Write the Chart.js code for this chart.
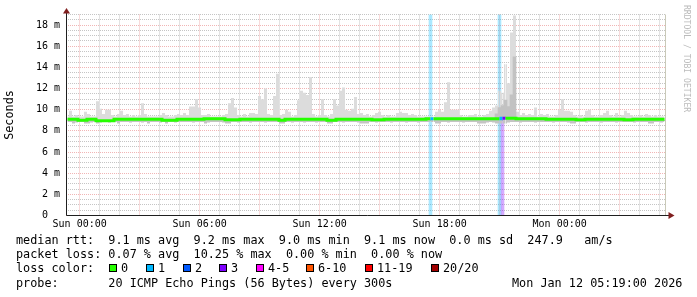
<!DOCTYPE html>
<html>
<head>
<meta charset="utf-8">
<script src="https://cdn.jsdelivr.net/npm/chart.js@4/dist/chart.umd.min.js"></script>
<style>
  html, body { margin: 0; padding: 0; background: #fff; }
  #wrap { position: relative; width: 697px; height: 297px; overflow: hidden; background: #fff; }
  #chart { position: absolute; left: 0; top: 0; }
  .txt { position: absolute; left: 16px; font-family: 'DejaVu Sans Mono', monospace; font-size: 11.8px;
         line-height: 14.2px; white-space: pre; color: #000; }
  .box { position: absolute; width: 6px; height: 6px; border: 1px solid #000; }
  #credit { position: absolute; left: 682px; top: 5px; writing-mode: vertical-rl;
            font-family: 'DejaVu Sans Mono', monospace; font-size: 8.1px; line-height: 10px;
            color: #bbb; white-space: pre; }
</style>
</head>
<body>
<div id="wrap">
  <canvas id="chart" width="697" height="297"></canvas>
  <div id="legend"></div>
  <div id="credit">RRDTOOL / TOBI OETIKER</div>
</div>
<script>
// ─── DATA ───────────────────────────────────────────
// time axis in hours relative to Sun 00:00, 200 bins of 9 minutes
const T_START = -41 / 60;      // Sat 23:19
const T_END = 29 + 19 / 60;    // Mon 05:19
const BIN_H = 0.15;

const xTickHours  = [0, 6, 12, 18, 24];
const xTickLabels = ['Sun 00:00', 'Sun 06:00', 'Sun 12:00', 'Sun 18:00', 'Mon 00:00'];
const yTickValues = [0, 2, 4, 6, 8, 10, 12, 14, 16, 18];
const yTickLabels = ['0  ', '2 m', '4 m', '6 m', '8 m', '10 m', '12 m', '14 m', '16 m', '18 m'];

// smoke top (slowest ping), ms
const smokeHi = [
  9.35, 9.9, 9.35, 9.5, 9.35, 9.35, 9.8, 9.6, 9.35, 9.35, 10.8, 10.1, 9.6, 10.0, 10.0, 9.5, 9.35, 9.6, 9.9, 9.5,
  9.6, 9.35, 9.5, 9.35, 9.5, 10.6, 9.6, 9.35, 9.35, 9.35, 9.35, 9.5, 9.7, 9.5, 9.35, 9.35, 9.5, 9.6, 9.5, 9.7,
  9.5, 10.3, 10.3, 11.0, 10.2, 9.5, 9.5, 9.6, 9.35, 9.35, 9.35, 9.35, 9.5, 9.6, 10.6, 11.1, 10.2, 9.5, 9.35, 9.6,
  9.35, 9.7, 9.7, 9.6, 11.3, 11.0, 12.0, 9.6, 9.5, 11.3, 13.4, 9.5, 9.6, 10.0, 9.8, 9.35, 9.5, 10.9, 11.8, 11.6,
  11.4, 13.1, 9.6, 9.35, 9.5, 11.0, 9.5, 9.35, 9.6, 11.0, 10.4, 11.8, 12.1, 10.0, 9.9, 10.1, 11.2, 9.6, 9.7, 9.5,
  9.6, 9.35, 9.5, 9.7, 9.8, 9.5, 9.35, 9.5, 9.35, 9.35, 9.7, 9.8, 9.7, 9.7, 9.5, 9.6, 9.5, 9.35, 9.35, 9.35,
  9.35, 9.35, 9.35, 9.8, 10.0, 9.8, 10.7, 12.6, 10.0, 10.0, 10.0, 9.5, 9.35, 9.35, 9.5, 9.5, 9.6, 9.35, 9.35, 9.5,
  9.6, 9.9, 10.2, 10.4, 11.8, 11.6, 14.3, 12.5, 17.3, 18.9, 9.8, 9.5, 9.7, 9.5, 9.6, 9.5, 10.2, 9.35, 9.6, 9.5,
  9.6, 9.35, 9.35, 9.5, 10.0, 11.0, 9.9, 9.9, 9.8, 9.5, 9.35, 9.5, 9.35, 9.9, 10.0, 9.5, 9.35, 9.35, 9.5, 9.7,
  9.9, 9.5, 9.35, 9.7, 9.35, 9.5, 9.9, 9.7, 9.5, 9.35, 9.35, 9.5, 9.35, 9.6, 9.5, 9.35, 9.5, 9.35, 9.35, 9.35
];

// smoke bottom (fastest ping), ms
const smokeLo = [
  8.85, 8.85, 8.7, 8.8, 8.85, 8.85, 8.7, 8.7, 8.8, 8.85, 8.7, 8.8, 8.85, 8.85, 8.8, 8.85, 8.85, 8.7, 8.85, 8.85,
  8.85, 8.8, 8.85, 8.85, 8.85, 8.8, 8.85, 8.7, 8.85, 8.85, 8.85, 8.8, 8.85, 8.7, 8.85, 8.85, 8.8, 8.85, 8.85, 8.85,
  8.85, 8.85, 8.8, 8.85, 8.85, 8.85, 8.7, 8.8, 8.85, 8.85, 8.85, 8.85, 8.8, 8.7, 8.7, 8.85, 8.85, 8.8, 8.85, 8.85,
  8.85, 8.8, 8.85, 8.85, 8.85, 8.85, 8.8, 8.85, 8.85, 8.85, 8.85, 8.7, 8.7, 8.85, 8.85, 8.8, 8.85, 8.85, 8.85, 8.8,
  8.85, 8.85, 8.85, 8.8, 8.85, 8.85, 8.85, 8.7, 8.7, 8.85, 8.85, 8.85, 8.8, 8.85, 8.85, 8.85, 8.85, 8.8, 8.7, 8.7,
  8.7, 8.85, 8.85, 8.8, 8.85, 8.85, 8.85, 8.85, 8.8, 8.85, 8.85, 8.85, 8.85, 8.8, 8.85, 8.85, 8.85, 8.8, 8.85, 8.85,
  8.85, 8.85, 8.85, 8.7, 8.7, 8.85, 8.85, 8.8, 8.85, 8.85, 8.85, 8.85, 8.8, 8.85, 8.85, 8.85, 8.85, 8.7, 8.7, 8.7,
  8.8, 8.85, 8.8, 8.7, 8.7, 8.7, 8.7, 8.8, 8.85, 8.85, 8.85, 8.8, 8.85, 8.85, 8.85, 8.85, 8.8, 8.85, 8.85, 8.85,
  8.85, 8.85, 8.8, 8.85, 8.85, 8.85, 8.85, 8.8, 8.7, 8.7, 8.85, 8.85, 8.85, 8.8, 8.85, 8.85, 8.85, 8.85, 8.8, 8.85,
  8.85, 8.85, 8.85, 8.8, 8.85, 8.85, 8.85, 8.85, 8.85, 8.8, 8.85, 8.85, 8.85, 8.85, 8.7, 8.7, 8.85, 8.85, 8.8, 8.85
];

// median rtt, ms
const medianRtt = [
  9.1, 9.1, 9.1, 9.1, 9.0, 9.0, 9.0, 9.1, 9.1, 9.1, 8.95, 8.95, 8.95, 8.95, 8.95, 8.95, 9.1, 9.1, 9.1, 9.1,
  9.1, 9.1, 9.1, 9.1, 9.1, 9.1, 9.1, 9.1, 9.1, 9.1, 9.1, 9.1, 9.0, 9.0, 9.0, 9.0, 9.0, 9.1, 9.1, 9.1,
  9.1, 9.1, 9.1, 9.1, 9.1, 9.1, 9.15, 9.15, 9.15, 9.15, 9.15, 9.15, 9.15, 9.05, 9.05, 9.05, 9.05, 9.05, 9.1, 9.1,
  9.1, 9.1, 9.1, 9.1, 9.1, 9.1, 9.1, 9.1, 9.1, 9.1, 9.1, 9.0, 9.0, 9.1, 9.1, 9.1, 9.1, 9.1, 9.1, 9.1,
  9.1, 9.1, 9.1, 9.1, 9.1, 9.1, 9.1, 9.0, 9.0, 9.0, 9.1, 9.1, 9.1, 9.1, 9.1, 9.1, 9.1, 9.1, 9.1, 9.1,
  9.1, 9.1, 9.05, 9.05, 9.05, 9.05, 9.1, 9.1, 9.1, 9.1, 9.1, 9.1, 9.1, 9.1, 9.1, 9.1, 9.1, 9.1, 9.1, 9.1,
  9.15, 9.15, 9.15, 9.15, 9.15, 9.15, 9.15, 9.15, 9.15, 9.15, 9.15, 9.15, 9.15, 9.15, 9.15, 9.15, 9.15, 9.15, 9.15, 9.15,
  9.15, 9.15, 9.15, 9.15, 9.15, 9.2, 9.2, 9.2, 9.2, 9.2, 9.15, 9.15, 9.15, 9.15, 9.15, 9.15, 9.15, 9.15, 9.15, 9.15,
  9.1, 9.1, 9.1, 9.1, 9.1, 9.1, 9.1, 9.1, 9.1, 9.1, 9.05, 9.05, 9.05, 9.1, 9.1, 9.1, 9.1, 9.1, 9.1, 9.1,
  9.1, 9.1, 9.1, 9.1, 9.1, 9.1, 9.05, 9.05, 9.05, 9.1, 9.1, 9.1, 9.1, 9.1, 9.1, 9.1, 9.1, 9.1, 9.1, 9.1
];

// darker inner smoke where the middle pings were slow too
const innerBins = [143, 144, 145, 146, 147, 148, 149];
const innerHi   = [9.6, 10.2, 10.4, 10.9, 10.3, 11.4, 15.0];

// bins with packet loss (lost pings out of 20) and how high each bar reaches
const lossBins   = [121, 144, 145];
const lossCounts = [1, 1, 3];
const lossBarTop = [19, 19, 9.2];

const lossLabels = ['0', '1', '2', '3', '4-5', '6-10', '11-19', '20/20'];
const lossLimits = [0, 1, 2, 3, 5, 10, 19, 20];
const lossColors = ['#26ff00', '#00b8ff', '#0059ff', '#7e00ff', '#ff00ff', '#ff5500', '#ff0000', '#a00000'];

const statLines = [
  'median rtt:  9.1 ms avg  9.2 ms max  9.0 ms min  9.1 ms now  0.0 ms sd  247.9   am/s',
  'packet loss: 0.07 % avg  10.25 % max  0.00 % min  0.00 % now',
  'loss color:',
  'probe:       20 ICMP Echo Pings (56 Bytes) every 300s'
];
const stampText = 'Mon Jan 12 05:19:00 2026';

// ─── STYLE ──────────────────────────────────────────
const FONT = "'DejaVu Sans Mono', monospace";
const GRID_MINOR = 'rgba(150,150,150,0.55)';
const GRID_MAJOR = 'rgba(222,79,79,0.42)';
const AXIS_COLOR = '#1f1f1f';
const ARROW_COLOR = '#801f1f';

Chart.defaults.font.family = FONT;
Chart.defaults.color = '#000';

const binTimes = smokeHi.map((_, i) => T_START + (i + 0.5) * BIN_H);
const pts = arr => arr.map((v, i) => ({ x: binTimes[i], y: v }));

function lossClass(n) {
  for (let k = 0; k < lossLimits.length; k++) if (n <= lossLimits[k]) return k;
  return lossLimits.length - 1;
}
function lossAtBin(b) {
  const k = lossBins.indexOf(b);
  return k < 0 ? 0 : lossCounts[k];
}
function alpha(hex, a) {
  const n = parseInt(hex.slice(1), 16);
  return `rgba(${n >> 16},${(n >> 8) & 255},${n & 255},${a})`;
}

// ─── AXIS DECOR (arrows, frame) ─────────────────────
const axisDecor = {
  id: 'axisDecor',
  afterDraw(chart) {
    const { ctx, chartArea: a } = chart;
    const x0 = Math.round(a.left) + 0.5;
    const y0 = Math.round(a.bottom) - 0.5;
    ctx.save();
    ctx.lineWidth = 1;
    ctx.strokeStyle = '#c9c9b8';
    ctx.beginPath();
    ctx.moveTo(Math.round(a.right) - 0.5, a.top);
    ctx.lineTo(Math.round(a.right) - 0.5, y0);
    ctx.stroke();

    ctx.strokeStyle = AXIS_COLOR;
    ctx.beginPath();
    ctx.moveTo(x0, y0);
    ctx.lineTo(x0, a.top - 2);
    ctx.moveTo(x0, y0);
    ctx.lineTo(a.right + 3, y0);
    ctx.stroke();

    ctx.fillStyle = ARROW_COLOR;
    ctx.beginPath();
    ctx.moveTo(x0, a.top - 6.5);
    ctx.lineTo(x0 - 3.5, a.top - 1);
    ctx.lineTo(x0 + 3.5, a.top - 1);
    ctx.closePath();
    ctx.fill();
    ctx.beginPath();
    ctx.moveTo(a.right + 8.5, y0);
    ctx.lineTo(a.right + 2.5, y0 - 3.5);
    ctx.lineTo(a.right + 2.5, y0 + 3.5);
    ctx.closePath();
    ctx.fill();
    ctx.restore();
  }
};

// ─── CHART ──────────────────────────────────────────
new Chart(document.getElementById('chart'), {
  type: 'line',
  data: {
    datasets: [
      { // 0: fastest ping
        data: pts(smokeLo),
        borderWidth: 0, borderColor: 'transparent', pointRadius: 0,
        stepped: 'middle', fill: false, order: 5
      },
      { // 1: median line, dark smoke down to fastest ping
        data: pts(medianRtt),
        borderWidth: 3, borderColor: lossColors[0], pointRadius: 0,
        borderCapStyle: 'butt', borderJoinStyle: 'miter',
        stepped: 'middle',
        fill: { target: 0 }, backgroundColor: '#c4c4c4',
        segment: { borderColor: c => lossColors[lossClass(lossAtBin(c.p0DataIndex))] },
        order: 0
      },
      { // 2: light smoke up to slowest ping
        data: pts(smokeHi),
        borderWidth: 0, borderColor: 'transparent', pointRadius: 0,
        stepped: 'middle',
        fill: { target: 1 }, backgroundColor: '#dcdcdc',
        order: 3
      },
      { // 3: darker inner smoke
        type: 'bar',
        data: innerBins.map((b, k) => ({ x: binTimes[b], y: [medianRtt[b], innerHi[k]] })),
        backgroundColor: '#c2c2c2',
        barPercentage: 1, categoryPercentage: 1, grouped: false, borderWidth: 0,
        order: 2
      },
      { // 4: loss bars
        type: 'bar',
        data: lossBins.map((b, k) => ({ x: binTimes[b], y: [0, lossBarTop[k]] })),
        backgroundColor: lossCounts.map(n => alpha(lossColors[lossClass(n)], 0.33)),
        barPercentage: 1, categoryPercentage: 1, grouped: false, borderWidth: 0,
        order: 6
      }
    ]
  },
  options: {
    responsive: false,
    animation: false,
    devicePixelRatio: 1,
    events: [],
    layout: { padding: { top: 14.5, right: 31, bottom: 61.5, left: 0 } },
    plugins: { legend: { display: false }, tooltip: { enabled: false } },
    scales: {
      x: {
        type: 'linear',
        min: T_START,
        max: T_END,
        offset: false,
        afterFit: s => { s.height = 20; },
        afterBuildTicks: s => {
          const t = [];
          for (let h = 0; h <= 29; h++) t.push({ value: h });
          s.ticks = t;
        },
        ticks: {
          autoSkip: false, maxRotation: 0, padding: 3,
          font: { size: 10 }, color: '#000',
          callback: v => { const k = xTickHours.indexOf(v); return k < 0 ? '' : xTickLabels[k]; }
        },
        grid: {
          offset: false, drawTicks: false, lineWidth: 1,
          color: c => (c.tick && c.tick.value % 3 === 0) ? GRID_MAJOR : GRID_MINOR
        },
        border: { display: false, dash: [1, 1] }
      },
      y: {
        type: 'linear',
        min: 0,
        max: 19,
        afterFit: s => { s.width = 66; },
        afterBuildTicks: s => {
          const t = [];
          for (let v = 0; v <= 19; v += 0.5) t.push({ value: v });
          s.ticks = t;
        },
        ticks: {
          autoSkip: false, padding: 6,
          font: { size: 10 }, color: '#000',
          callback: v => { const k = yTickValues.indexOf(v); return k < 0 ? '' : yTickLabels[k]; }
        },
        grid: {
          drawTicks: false, lineWidth: 1,
          color: c => (c.tick && c.tick.value % 2 === 0) ? GRID_MAJOR : GRID_MINOR
        },
        border: { display: false, dash: [1, 1] },
        title: {
          display: true, text: 'Seconds', color: '#000',
          font: { size: 11.8 }, padding: { top: 3, bottom: 0 }
        }
      }
    }
  },
  plugins: [axisDecor]
});

// ─── LEGEND TEXT ────────────────────────────────────
const legend = document.getElementById('legend');
const LINE_TOP = 233, LINE_H = 14.2;
const boxX = [109, 146, 183, 219, 256, 306, 365, 431];

statLines.forEach((s, i) => {
  const d = document.createElement('div');
  d.className = 'txt';
  d.style.top = (LINE_TOP + i * LINE_H) + 'px';
  d.textContent = s;
  legend.appendChild(d);
});

lossLabels.forEach((lbl, k) => {
  const b = document.createElement('div');
  b.className = 'box';
  b.style.left = boxX[k] + 'px';
  b.style.top = '264px';
  b.style.background = lossColors[k];
  legend.appendChild(b);
  const t = document.createElement('div');
  t.className = 'txt';
  t.style.left = (boxX[k] + 12) + 'px';
  t.style.top = (LINE_TOP + 2 * LINE_H) + 'px';
  t.textContent = lbl;
  legend.appendChild(t);
});

const stamp = document.createElement('div');
stamp.className = 'txt';
stamp.style.left = '512px';
stamp.style.top = (LINE_TOP + 3 * LINE_H) + 'px';
stamp.textContent = stampText;
legend.appendChild(stamp);
</script>
</body>
</html>
